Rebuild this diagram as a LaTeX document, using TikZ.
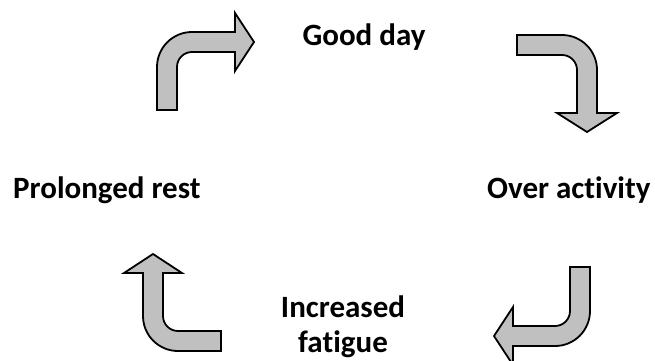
\documentclass[tikz,border=0pt]{standalone}
\usepackage{fontspec}
\setmainfont[Ligatures=NoCommon]{Carlito}
\usepackage{xcolor}
\usetikzlibrary{positioning}

\definecolor{arrowgray}{RGB}{192,192,192}

\begin{document}
\begin{tikzpicture}[x=1pt,y=1pt,
	bent/.style={draw=black,line width=1.8pt,fill=arrowgray,line join=miter},
	word/.style={font=\fontsize{31}{35}\selectfont\bfseries,inner sep=0pt}]
			\useasboundingbox (0,0) rectangle (655,360);
			\clip (0,0) rectangle (655,360);

			\node[word,anchor=base] (good) at (364,315) {Good day};
			\node[word,anchor=base west] (over) at (487,162) {Over activity};
			\node[word,anchor=base] (fat) at (343,8) {fatigue};
			\node[word,anchor=base] (inc) at (343,43) {Increased};
			\node[word,anchor=base west] (rest) at (13,162) {Prolonged rest};

			% top left
			\draw[bent] (157,250) -- (157,293) arc[start angle=180,end angle=90,radius=35]
				-- (235,328) -- (235,347) -- (254,318) -- (235,289) -- (235,308)
				-- (192,308) arc[start angle=90,end angle=180,radius=15] -- (177,250) -- cycle;
			% top right
			\draw[bent] (517,325) -- (562,325) arc[start angle=90,end angle=0,radius=35]
				-- (597,247) -- (617,247) -- (587,228) -- (557,247) -- (577,247)
				-- (577,290) arc[start angle=0,end angle=90,radius=15] -- (517,305) -- cycle;
			% bottom right
			\draw[bent] (570,93) -- (590,93) -- (590,49) arc[start angle=0,end angle=-90,radius=35]
				-- (513,14) -- (513,-5) -- (494,24) -- (513,53) -- (513,34)
				-- (555,34) arc[start angle=-90,end angle=0,radius=15] -- cycle;
			% bottom left
			\draw[bent] (221,29) -- (178,29) arc[start angle=270,end angle=180,radius=15]
				-- (163,87) -- (182,87) -- (153,106) -- (124,87) -- (143,87)
				-- (143,44) arc[start angle=180,end angle=270,radius=35] -- (221,9) -- cycle;
\end{tikzpicture}
\end{document}
